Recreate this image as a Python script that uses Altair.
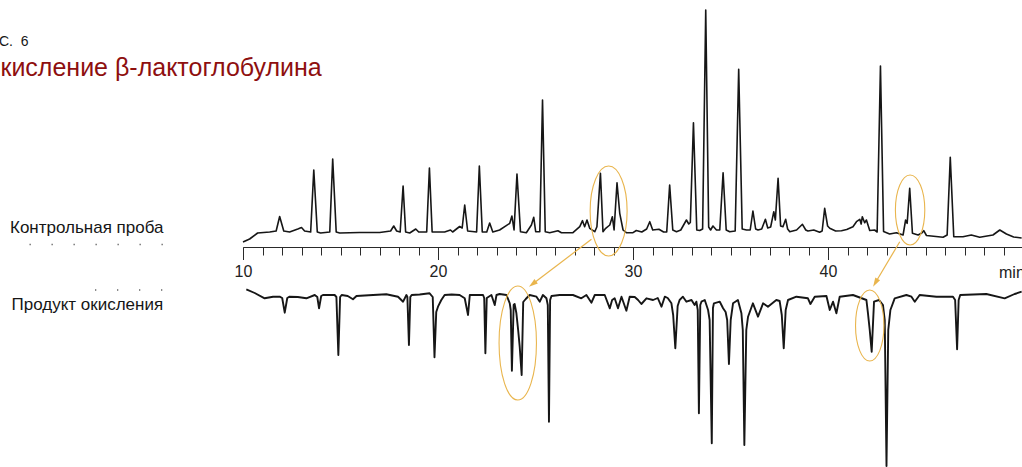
import altair as alt
import pandas as pd

# Control sample: retention time (min) and detector response
TOP_T = [10.00, 10.34, 10.75, 11.37, 11.70, 11.88, 12.09, 12.39, 12.81, 13.00,
         13.16, 13.47, 13.63, 13.81, 13.98, 14.45, 14.60, 14.78, 14.96, 15.98,
         17.01, 17.57, 17.73, 17.88, 18.06, 18.21, 18.34, 18.55, 18.86, 19.01,
         19.42, 19.56, 19.70, 20.34, 20.64, 20.75, 21.11, 21.24, 21.37, 21.52,
         21.98, 22.12, 22.27, 22.50, 22.65, 22.81, 23.16, 23.68, 23.79, 23.90,
         24.05, 24.23, 24.53, 24.79, 24.91, 25.01, 25.22, 25.36, 25.50, 25.73,
         26.15, 26.33, 26.92, 27.27, 27.41, 27.52, 27.64, 27.78, 28.04, 28.15,
         28.33, 28.46, 28.60, 28.81, 28.94, 29.03, 29.18, 29.32, 29.49, 29.66,
         30.00, 30.17, 30.45, 30.70, 30.86, 31.01, 31.33, 31.57, 31.73, 31.88,
         32.04, 32.23, 32.45, 32.74, 32.86, 32.94, 33.10, 33.27, 33.42, 33.57,
         33.73, 33.88, 33.98, 34.10, 34.28, 34.45, 34.62, 34.78, 34.96, 35.24,
         35.42, 35.60, 35.82, 36.01, 36.15, 36.29, 36.41, 36.60, 36.79, 36.91,
         37.06, 37.22, 37.30, 37.44, 37.57, 37.69, 37.83, 37.93, 38.04, 38.39,
         38.69, 38.86, 38.97, 39.27, 39.57, 39.70, 39.83, 39.98, 40.09, 40.39,
         40.69, 40.96, 41.28, 41.46, 41.63, 41.70, 41.76, 41.88, 41.97, 42.14,
         42.39, 42.52, 42.69, 42.85, 43.16, 43.51, 43.85, 43.98, 44.06, 44.19,
         44.33, 44.62, 44.81, 44.91, 45.05, 45.90, 46.11, 46.27, 46.45, 46.92,
         47.35, 47.78, 48.46, 48.81, 49.15, 49.52, 49.93]
TOP_S = [5, 8, 14, 15, 16, 30.5, 16, 15, 18, 19.5,
         16, 15, 77, 15, 14, 15, 88, 15, 14, 14.5,
         14.5, 16, 21, 16, 15, 61, 15, 14, 18, 15,
         15, 79, 15, 15, 17, 15, 20.5, 19, 42, 16,
         15, 81, 15, 15, 24, 15, 17, 23.7, 31, 17,
         73, 15.3, 14.3, 22, 29.7, 15.3, 15.3, 147, 15.3, 14.3,
         16.3, 14.3, 14.3, 20.3, 26.3, 20.3, 27, 18.7, 15.3, 20.3,
         73.7, 15.3, 18.7, 22, 30.3, 17, 64.3, 33.7, 17, 14.3,
         14.3, 16.5, 15, 18, 25.3, 17, 17.7, 15, 15, 62,
         17, 15.3, 17, 27, 23, 24.5, 124.3, 17, 16.5, 18,
         237, 20, 17, 21, 17, 17, 74.3, 17, 15.3, 16,
         177.7, 18, 17, 17, 36, 18, 17, 18, 27.7, 19,
         20, 35.3, 27, 68.7, 21, 20.3, 27.7, 18, 15.3, 17,
         22.7, 17, 16, 17, 14.7, 16, 38.7, 21, 18.7, 16,
         16.3, 17.5, 20.3, 25.3, 27.7, 23, 30.3, 24.3, 27, 16.5,
         17, 15, 181, 15.5, 13, 14.3, 12, 27, 23.7, 58.7,
         13.7, 12, 14, 16.3, 11.5, 9.7, 12, 89.7, 10.3, 10.3,
         12, 9.7, 12, 17, 13, 10, 9]

# Oxidation product: drawn mirrored below the time axis
BOTTOM_T = [10.17, 10.60, 11.11, 11.54, 11.88, 12.01, 12.14, 12.27, 12.39, 12.81,
            13.25, 13.68, 13.81, 13.90, 14.01, 14.10, 14.70, 14.79, 14.89, 14.98,
            15.06, 15.37, 15.64, 15.82, 16.24, 16.67, 17.35, 17.95, 18.21, 18.38,
            18.43, 18.51, 18.58, 18.65, 19.06, 19.57, 19.73, 19.82, 19.91, 20.00,
            20.17, 20.34, 20.70, 21.11, 21.37, 21.54, 21.63, 22.31, 22.37, 22.43,
            22.50, 22.74, 22.91, 23.00, 23.16, 23.51, 23.68, 23.73, 23.79, 23.88,
            23.93, 24.02, 24.11, 24.19, 24.29, 24.37, 24.50, 24.70, 25.05, 25.22,
            25.38, 25.56, 25.63, 25.69, 25.75, 25.82, 26.24, 26.92, 27.35, 27.61,
            27.87, 28.04, 28.55, 28.81, 28.93, 29.06, 29.23, 29.41, 29.66, 29.83,
            30.09, 30.26, 30.43, 30.69, 31.03, 31.27, 31.46, 31.63, 31.78, 31.97,
            32.06, 32.17, 32.29, 32.39, 32.56, 32.74, 33.00, 33.16, 33.25, 33.32,
            33.38, 33.45, 33.51, 33.68, 33.85, 33.93, 34.04, 34.10, 34.15, 34.45,
            34.62, 34.75, 34.83, 34.92, 35.01, 35.13, 35.38, 35.56, 35.63, 35.71,
            35.81, 35.90, 36.15, 36.41, 36.67, 36.92, 37.35, 37.52, 37.63, 37.73,
            37.83, 37.95, 38.38, 38.97, 39.10, 39.32, 39.92, 40.09, 40.26, 40.43,
            40.60, 41.28, 41.97, 42.05, 42.14, 42.24, 42.36, 42.62, 42.82, 42.91,
            43.00, 43.09, 43.20, 43.42, 44.02, 44.28, 44.45, 44.70, 45.56, 46.41,
            46.52, 46.62, 46.70, 46.78, 48.12, 49.06, 49.57, 49.93]
BOTTOM_S = [-42.3, -46, -51.3, -49.7, -49.7, -51, -65.7, -51, -49.7, -50,
            -51.3, -48, -50, -61.3, -49, -48, -48, -50, -108, -50,
            -48, -49, -52.3, -49, -48.5, -48, -47.3, -49.7, -54.7, -48,
            -50, -98, -50, -48, -47.5, -46.3, -50, -110.3, -65, -59.7,
            -53, -48, -47.5, -48, -51.3, -68, -48, -48, -51, -106.3,
            -51, -48, -58, -48, -47, -48, -56.3, -63, -123.7, -58,
            -57, -66.3, -83, -99.7, -128, -55, -52, -48, -49.7, -54.7,
            -48, -51.3, -58, -174.7, -53, -49, -48, -48, -51.3, -48,
            -55.7, -48, -48, -61.3, -53, -51.3, -61.3, -49.7, -63.7, -49.7,
            -50, -53, -57, -51.3, -53, -51, -59.7, -49.7, -51, -56.3,
            -68, -101.3, -59, -53, -49.7, -54.7, -53, -58, -54.7, -63,
            -166.3, -58, -54.7, -53, -63, -73, -196.3, -61, -56.3, -54.7,
            -61.3, -65, -73, -117, -73, -56.3, -53, -66.3, -83, -198,
            -83, -69.7, -56.3, -69.7, -56.3, -59.7, -53, -54, -68, -101.3,
            -63, -53, -49.7, -51.3, -57, -49.7, -49, -63, -54.7, -66.3,
            -49.7, -48, -53, -66.3, -83, -104.7, -54.7, -53, -58, -73,
            -219, -83, -63, -51.3, -48, -49.7, -54.7, -48, -49.7, -49.7,
            -53, -102.3, -53, -48, -47, -51.3, -47, -44.7]

# Time axis
MAJOR_TICKS = [10, 20, 30, 40]
MINOR_TICKS = list(range(10, 50))

# Highlighted peak groups (centre time, centre response) and the arrows linking them
ELL_T = [28.75, 44.21, 24.09, 42.14]
ELL_S = [36, 37, -96, -78.5]
ELL_HALF_W = [18.5, 14.7, 18.7, 14.2]
ELL_HALF_H = [45, 35, 57, 35.5]

ARROW_T = [27.87, 43.68]
ARROW_S = [7.7, 5.3]
ARROW_T2 = [24.85, 42.43]
ARROW_S2 = [-37.0, -35.8]
ARROW_ANGLE = [232.7, 210.7]

INK = "#161616"
GOLD = "#E9B54D"
TITLE_RED = "#8E0F0F"
FONT = "Liberation Sans"

PLOT_W = 779
PLOT_H = 467
LEFT_PAD = 243

top = pd.DataFrame({"t": TOP_T, "s": TOP_S})
bottom = pd.DataFrame({"t": BOTTOM_T, "s": BOTTOM_S})


def ellipse_path(ratio):
    r = round(ratio, 3)
    return f"M {-r} 0 A {r} 1 0 1 0 {r} 0 A {r} 1 0 1 0 {-r} 0 Z"


ellipses = pd.DataFrame({
    "t": ELL_T,
    "s": ELL_S,
    "path": [ellipse_path(w / h) for w, h in zip(ELL_HALF_W, ELL_HALF_H)],
    "size": [(2 * h) ** 2 for h in ELL_HALF_H],
})
arrows = pd.DataFrame({"t": ARROW_T, "s": ARROW_S, "t2": ARROW_T2,
                       "s2": ARROW_S2, "angle": ARROW_ANGLE})

x_scale = alt.Scale(domain=[10, 10 + PLOT_W / 19.5], nice=False, zero=False)
y_scale = alt.Scale(domain=[-220, 247], nice=False, zero=False)
AXIS_OFFSET = -220  # time axis runs between the two traces

minor_axis = alt.Axis(values=MINOR_TICKS, tickSize=8, labels=False, domain=True,
                      domainColor="#2a2a2a", domainWidth=1, tickColor="#2a2a2a",
                      tickWidth=1, grid=False, title=None, orient="bottom",
                      offset=AXIS_OFFSET)
major_axis = alt.Axis(values=MAJOR_TICKS, tickSize=12.5, labels=True, domain=False,
                      tickColor="#2a2a2a", tickWidth=1, grid=False, title=None,
                      orient="bottom", offset=AXIS_OFFSET, labelFont=FONT,
                      labelFontSize=16, labelColor="#222222", labelPadding=4,
                      labelFlush=False, labelOverlap=False)

top_line = alt.Chart(top).mark_line(
    color=INK, strokeWidth=1.6, strokeJoin="round"
).encode(
    x=alt.X("t:Q", scale=x_scale, axis=minor_axis),
    y=alt.Y("s:Q", scale=y_scale, axis=None),
)
bottom_line = alt.Chart(bottom).mark_line(
    color=INK, strokeWidth=1.9, strokeJoin="round"
).encode(
    x=alt.X("t:Q", scale=x_scale, axis=major_axis),
    y=alt.Y("s:Q", scale=y_scale, axis=None),
)

ellipse_marks = alt.Chart(ellipses).mark_point(
    filled=False, color=GOLD, strokeWidth=1.1, opacity=1
).encode(
    x=alt.X("t:Q", scale=x_scale, axis=None),
    y=alt.Y("s:Q", scale=y_scale, axis=None),
    shape=alt.Shape("path:N", scale=None),
    size=alt.Size("size:Q", scale=None),
)

arrow_lines = alt.Chart(arrows).mark_rule(color=GOLD, strokeWidth=1.2).encode(
    x=alt.X("t:Q", scale=x_scale, axis=None),
    x2="t2:Q",
    y=alt.Y("s:Q", scale=y_scale, axis=None),
    y2="s2:Q",
)
arrow_heads = alt.Chart(arrows).mark_point(
    shape="M 0 -1 L 0.62 1 L -0.62 1 Z", filled=True, color=GOLD, size=81, opacity=1
).encode(
    x=alt.X("t2:Q", scale=x_scale, axis=None),
    y=alt.Y("s2:Q", scale=y_scale, axis=None),
    angle=alt.Angle("angle:Q", scale=None),
)


def label(text, x, y, size, color=INK):
    return alt.Chart(alt.Data(values=[{}])).mark_text(
        text=text, align="left", baseline="alphabetic", font=FONT,
        fontSize=size, color=color
    ).encode(x=alt.value(x - LEFT_PAD), y=alt.value(y))


def leader(x1, x2, y):
    return alt.Chart(alt.Data(values=[{}])).mark_rule(
        color="#666666", strokeWidth=1.3, strokeDash=[1.3, 20.7]
    ).encode(x=alt.value(x1 - LEFT_PAD), x2=alt.value(x2 - LEFT_PAD),
             y=alt.value(y), y2=alt.value(y))


texts = [
    label("РИС.\u00a0 6", -20.5, 46, 14),
    label("Окисление β-лактоглобулина", -19, 76, 25, TITLE_RED),
    label("Контрольная проба", 10, 233, 17),
    label("Продукт окисления", 11.5, 310, 17),
    label("min", 999, 278, 16, "#222222"),
    leader(29.5, 163, 244.5),
    leader(95, 163, 290),
]

chart = alt.layer(
    top_line, bottom_line, ellipse_marks, arrow_lines, arrow_heads, *texts
).resolve_axis(
    x="independent"
).properties(
    width=PLOT_W,
    height=PLOT_H,
    padding={"left": LEFT_PAD, "top": 0, "right": 0, "bottom": 0},
    autosize=alt.AutoSizeParams(type="none"),
).configure(
    background="white"
).configure_view(
    stroke=None
)

chart.save("out.html", embed_options={"renderer": "svg", "actions": False})
